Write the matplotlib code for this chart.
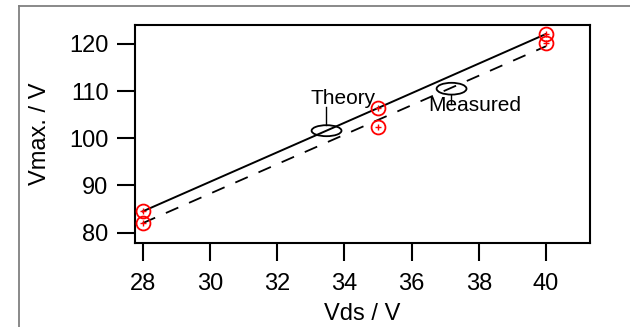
import matplotlib.pyplot as plt
from matplotlib.patches import Ellipse
from matplotlib.lines import Line2D

plt.rcParams['font.family'] = ['Liberation Sans', 'DejaVu Sans']

# data
vds = [28, 35, 40]
theory = [84.5, 106.4, 122.1]
measured = [82.0, 102.3, 120.1]
fit_x = [28, 40]
fit_y = [82.0, 119.5]

fig = plt.figure(figsize=(6.3, 3.27), dpi=100)
ax = fig.add_axes([0.2143, 0.2584, 0.7222, 0.6651])

# grey outer frame (only left and top visible)
fig.add_artist(Line2D([19/630, 19/630], [0, 1 - 6/327], color='#808080', lw=1.3))
fig.add_artist(Line2D([19/630, 1], [1 - 6/327, 1 - 6/327], color='#808080', lw=1.3))

ax.plot(vds, theory, color='black', lw=1.4, zorder=2)
ax.plot(fit_x, fit_y, color='black', lw=1.3, dashes=(7.5, 6.5), zorder=2)

ax.plot(vds, theory, 'o', ms=10, mfc='none', mec='red', mew=1.3, zorder=3)
ax.plot(vds, measured, 'o', ms=10, mfc='none', mec='red', mew=1.3, zorder=3)
ax.plot(vds, theory, '+', ms=4, color='red', mew=1.0, zorder=3)
ax.plot(vds, measured, '+', ms=4, color='red', mew=1.0, zorder=3)

# callouts
ax.add_patch(Ellipse((33.47, 101.6), 0.89, 2.33, fill=False, color='black', lw=1.3))
ax.plot([33.45, 33.45], [106.6, 102.8], color='black', lw=1.0)
ax.text(33.96, 107.3, 'Theory', fontsize=15, ha='center', va='baseline')

ax.add_patch(Ellipse((37.19, 110.5), 0.89, 2.5, fill=False, color='black', lw=1.3))
ax.plot([37.17, 37.17], [109.25, 107.3], color='black', lw=1.0)
ax.text(37.89, 105.8, 'Measured', fontsize=15, ha='center', va='baseline')

ax.set_xlim(27.77, 41.31)
ax.set_ylim(77.9, 124.0)
ax.set_xticks([28, 30, 32, 34, 36, 38, 40])
ax.set_yticks([80, 90, 100, 110, 120])

for s in ax.spines.values():
    s.set_linewidth(1.5)
ax.tick_params(direction='out', length=13, width=1.5, labelsize=17)
ax.tick_params(axis='x', pad=9)
ax.tick_params(axis='y', pad=6)

ax.set_xlabel('Vds / V', fontsize=17, labelpad=6)
ax.set_ylabel('Vmax. / V', fontsize=17, labelpad=13)

fig.savefig('out.png', dpi=100)
